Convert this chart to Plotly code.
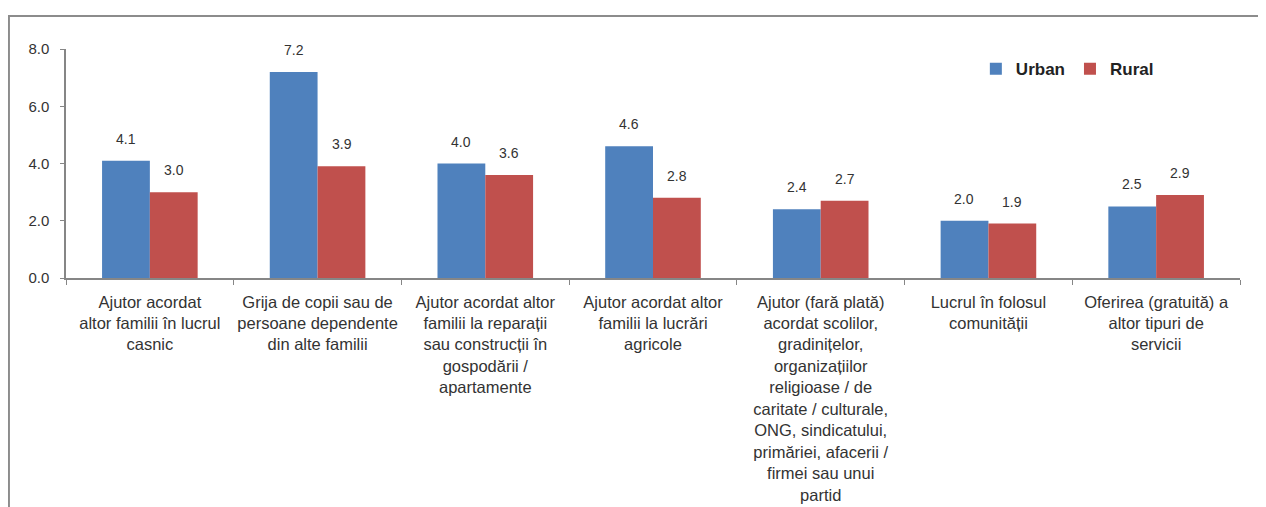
import plotly.graph_objects as go

categories = [
    "Ajutor acordat<br>altor familii în lucrul<br>casnic",
    "Grija de copii sau de<br>persoane dependente<br>din alte familii",
    "Ajutor acordat altor<br>familii la reparații<br>sau construcții în<br>gospodării /<br>apartamente",
    "Ajutor acordat altor<br>familii la lucrări<br>agricole",
    "Ajutor (fară plată)<br>acordat scolilor,<br>gradinițelor,<br>organizațiilor<br>religioase / de<br>caritate / culturale,<br>ONG, sindicatului,<br>primăriei, afacerii /<br>firmei sau unui<br>partid",
    "Lucrul în folosul<br>comunității",
    "Oferirea (gratuită) a<br>altor tipuri de<br>servicii",
]
urban = [4.1, 7.2, 4.0, 4.6, 2.4, 2.0, 2.5]
rural = [3.0, 3.9, 3.6, 2.8, 2.7, 1.9, 2.9]
y_ticks = [0, 2, 4, 6, 8]

BLUE = "#4F81BD"
RED = "#C0504D"

fig = go.Figure()
fig.add_trace(go.Bar(name="Urban", x=categories, y=urban, marker=dict(color=BLUE, line=dict(width=0))))
fig.add_trace(go.Bar(name="Rural", x=categories, y=rural, marker=dict(color=RED, line=dict(width=0))))

for vals, shift in ((urban, -24), (rural, 24)):
    for c, v in zip(categories, vals):
        fig.add_annotation(x=c, y=v, text=f"{v:.1f}", showarrow=False, xshift=shift, yshift=12,
                           yanchor="bottom", font=dict(family="Liberation Sans", size=14, color="#333333"))

# outer frame
fig.add_shape(type="rect", xref="paper", yref="paper", x0=-0.0486, x1=1.03, y0=-1.05, y1=1.144,
              line=dict(color="#8c8c8c", width=2), fillcolor="rgba(0,0,0,0)", layer="below")

# page body has an 8px offset; margins compensate
fig.update_layout(
    width=1258, height=499,
    margin=dict(l=58, r=26, t=41, b=229),
    paper_bgcolor="white", plot_bgcolor="white",
    barmode="group", bargap=0.43, bargroupgap=0,
    showlegend=True,
    legend=dict(orientation="h", x=0.775, y=0.99, xanchor="left", yanchor="top",
                font=dict(family="Liberation Sans", size=17, color="#222222", weight="bold"),
                itemwidth=30, tracegroupgap=0, traceorder="normal", bgcolor="rgba(0,0,0,0)"),
    font=dict(family="Liberation Sans"),
)
fig.update_xaxes(showline=True, linecolor="#868686", linewidth=1.5, ticks="outside", tickson="boundaries",
                 ticklen=5, tickcolor="#868686", tickangle=0, showgrid=False, automargin=False,
                 ticklabelstandoff=8,
                 tickfont=dict(family="Liberation Sans", size=16.5, color="#333333"))
fig.update_yaxes(range=[0, 8], tickvals=y_ticks, tickformat=".1f", showline=True, linecolor="#868686",
                 linewidth=1.5, ticks="outside", ticklen=4, tickcolor="#868686", showgrid=False,
                 zeroline=False, automargin=False, ticklabelstandoff=8,
                 tickfont=dict(family="Liberation Sans", size=15, color="#333333"))

fig.write_html("out.html")
